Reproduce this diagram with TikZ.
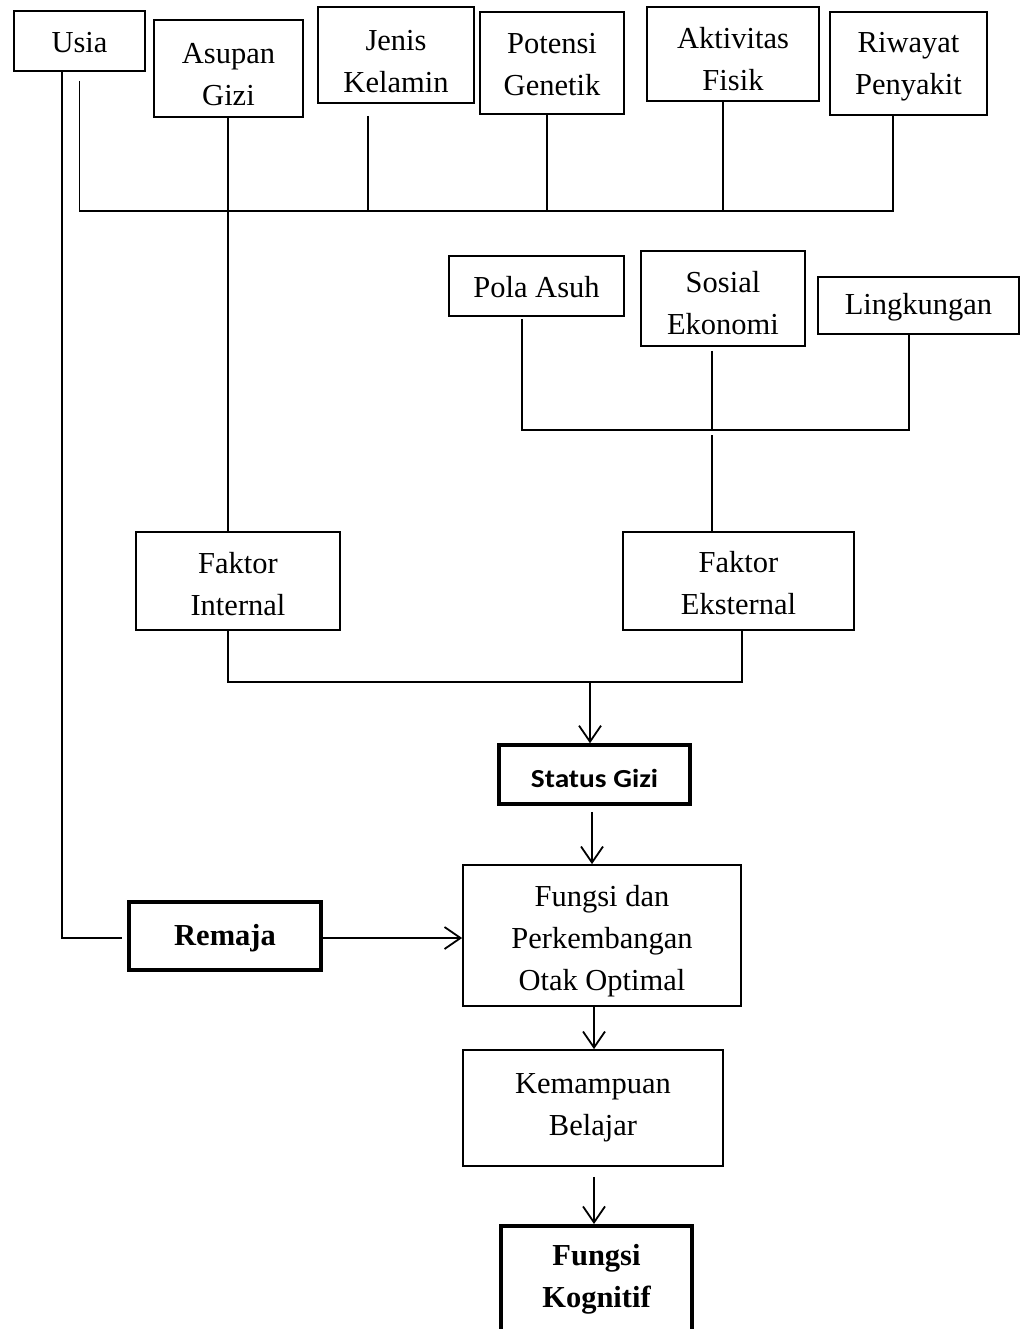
\documentclass[tikz,border=0pt]{standalone}
\usepackage{fontspec}
\setmainfont{Liberation Serif}
\newfontfamily\calibri{Carlito}[FakeStretch=1.13]
\usetikzlibrary{arrows.meta}
\newcommand\tdn[1]{\rule{0pt}{#1pt}}
\begin{document}
\begin{tikzpicture}[x=1pt,y=1pt,
  box/.style={draw, line width=1.8pt, inner sep=0pt, align=center, font=\fontsize{30.5}{42}\selectfont},
  thickbox/.style={box, line width=3.5pt, font=\fontsize{30.5}{42}\selectfont\bfseries},
  conn/.style={line width=1.8pt},
  arr/.style={conn, -{Straight Barb[length=16pt,width=22pt]}}]
\useasboundingbox (0,0) rectangle (1021,-1329);
\clip (0,0) rectangle (1021,-1329);

% top row
\node[box, minimum width=131pt, minimum height=60pt]  (usia)      at (79.5,-41)   {\tdn{24}Usia};
\node[box, minimum width=149pt, minimum height=97pt]  (asupan)    at (228.5,-68.5) {\tdn{33}Asupan\\Gizi};
\node[box, minimum width=156pt, minimum height=96pt]  (jenis)     at (396,-55)    {\tdn{33}Jenis\\Kelamin};
\node[box, minimum width=144pt, minimum height=102pt] (potensi)   at (552,-63)    {\tdn{23}Potensi\\Genetik};
\node[box, minimum width=172pt, minimum height=94pt]  (aktivitas) at (733,-54)    {\tdn{31}Aktivitas\\Fisik};
\node[box, minimum width=157pt, minimum height=103pt] (riwayat)   at (908.5,-63.5) {\tdn{27}Riwayat\\Penyakit};

% external factors
\node[box, minimum width=175pt, minimum height=60pt]  (pola)      at (536.5,-286) {\tdn{23}Pola Asuh};
\node[box, minimum width=164pt, minimum height=95pt]  (sosial)    at (723,-298.5) {\tdn{31}Sosial\\Ekonomi};
\node[box, minimum width=201pt, minimum height=57pt]  (lingk)     at (918.5,-305.5) {\tdn{25}Lingkungan};

% factors
\node[box, minimum width=204pt, minimum height=98pt]  (internal)  at (238,-581)   {\tdn{27}Faktor\\Internal};
\node[box, minimum width=231pt, minimum height=98pt]  (eksternal) at (738.5,-581) {\tdn{25}Faktor\\Eksternal};

% chain
\node[thickbox, minimum width=191pt, minimum height=59pt, font=\fontsize{26}{32}\calibri\bfseries] (status) at (594.5,-774.5) {\tdn{27}Status Gizi};
\node[box, minimum width=278pt, minimum height=141pt] (otak)      at (602,-935.5) {\tdn{33}Fungsi dan\\Perkembangan\\Otak Optimal};
\node[thickbox, minimum width=192pt, minimum height=68pt] (remaja) at (225,-936)  {\tdn{25}Remaja};
\node[box, minimum width=260pt, minimum height=116pt] (kemampuan) at (593,-1108)  {Kemampuan\\Belajar};
\node[thickbox, minimum width=191pt, minimum height=108pt, anchor=north] (kognitif) at (596.5,-1224) {Fungsi\\Kognitif};

% helper coordinates
\coordinate (usiaA)  at ([xshift=-17.5pt]usia.south);
\coordinate (remajaL) at ([xshift=-5pt,yshift=-2pt]remaja.west);
\coordinate (remajaR) at ([yshift=-2pt]remaja.east);
\coordinate (hubL)   at ([yshift=-9pt]usia.south);
\coordinate (busL)   at (hubL |- 0,-211);
\coordinate (rwy)    at ([xshift=-15.5pt]riwayat.south);
\coordinate (jen)    at ([xshift=-28pt,yshift=-12pt]jenis.south);
\coordinate (pot)    at ([xshift=-5pt]potensi.south);
\coordinate (akt)    at ([xshift=-10pt]aktivitas.south);
\coordinate (pol)    at ([xshift=-14.5pt,yshift=-2pt]pola.south);
\coordinate (lin)    at ([xshift=-9.5pt]lingk.south);
\coordinate (sos)    at ([xshift=-11pt,yshift=-4pt]sosial.south);
\coordinate (eks)    at ([xshift=-26.5pt]eksternal.north);
\coordinate (intB)   at ([xshift=-10pt]internal.south);
\coordinate (eksB)   at ([xshift=3.5pt]eksternal.south);
\coordinate (stT)    at ([xshift=-4.5pt]status.north);

% Usia long line to Remaja
\draw[conn] (usiaA) -- (usiaA |- remajaL) -- (remajaL);

% internal bus
\draw[conn] (hubL) -- (busL) -- (rwy |- busL) -- (rwy);
\draw[conn] (jen) -- (jen |- busL);
\draw[conn] (pot) -- (pot |- busL);
\draw[conn] (akt) -- (akt |- busL);
\draw[conn] ([xshift=-0.5pt]asupan.south) -- ([xshift=-0.5pt]asupan.south |- internal.north);

% external bus
\draw[conn] (pol) -- (pol |- 0,-430) -- (lin |- 0,-430) -- (lin);
\draw[conn] (sos) -- (sos |- 0,-430);
\draw[conn] (eks |- 0,-435) -- (eks);

% factors to status
\draw[conn] (intB) -- (intB |- 0,-682) -- (eksB |- 0,-682) -- (eksB);
\draw[arr] (stT |- 0,-682) -- (stT);

% chain arrows
\draw[arr] ([yshift=-6pt,xshift=-2.5pt]status.south) -- ([xshift=-10pt]otak.north);
\draw[arr] ([xshift=-8pt]otak.south) -- ([xshift=1pt]kemampuan.north);
\draw[arr] ([yshift=-10pt,xshift=1pt]kemampuan.south) -- ([xshift=-2.5pt]kognitif.north);
\draw[arr] (remajaR) -- (remajaR -| otak.west);
\end{tikzpicture}
\end{document}
